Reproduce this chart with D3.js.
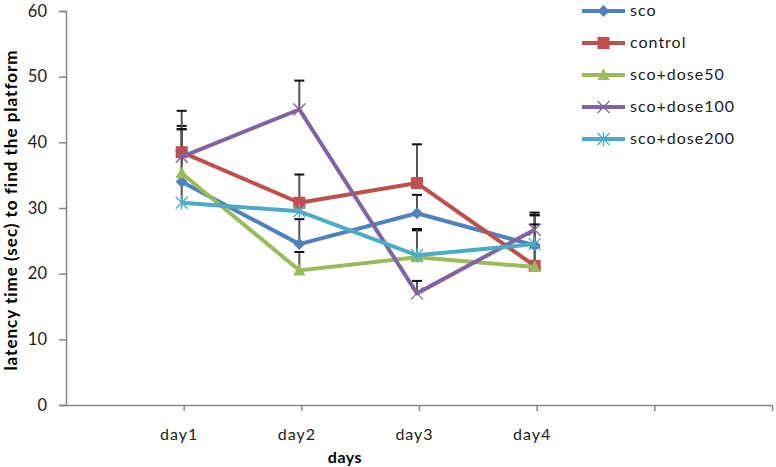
<!DOCTYPE html>
<html><head><meta charset="utf-8">
<script src="https://cdn.jsdelivr.net/npm/d3@7"></script>
<style>body{margin:0;background:#fff}svg{display:block}</style>
</head><body><svg id="c" width="776" height="467"></svg>
<script>
const tickLabels = ["", "day1", "day2", "day3", "day4", "", ""];
const days = ["day1", "day2", "day3", "day4"];
const seriesNames = ["sco", "control", "sco+dose50", "sco+dose100", "sco+dose200"];
const sco = [34.0, 24.5, 29.2, 24.3];
const control = [38.5, 30.8, 33.8, 21.2];
const dose50 = [35.3, 20.5, 22.5, 21.0];
const dose100 = [37.8, 45.0, 17.0, 26.7];
const dose200 = [30.8, 29.5, 22.8, 24.5];
const scoErr = [8.5, 3.8, 2.8, 5.0];
const controlErr = [6.3, 4.3, 5.9, 7.7];
const dose50Err = [6.7, 2.8, 4.1, 3.0];
const dose100Err = [4.2, 4.4, 1.9, 2.2];
const dose200Err = [4.0, 2.0, 4.0, 3.0];
const yTicks = [0, 10, 20, 30, 40, 50, 60];

const colors = ["#4F81BD", "#C0504D", "#9BBB59", "#8064A2", "#4BACC6"];
const markers = ["diamond", "square", "triangle", "x", "asterisk"];
const values = [sco, control, dose50, dose100, dose200];
const errs = [scoErr, controlErr, dose50Err, dose100Err, dose200Err];

const svg = d3.select("#c");
const font = "Lato, 'Open Sans', sans-serif";
const x = d3.scaleLinear().domain([0, 6]).range([66, 772]);
const y = d3.scaleLinear().domain([0, 60]).range([405, 11]);
const axisColor = "#868686";

// y axis
const ya = svg.append("g").attr("transform", "translate(66,0)")
  .call(d3.axisLeft(y).tickValues(yTicks).tickSize(7).tickPadding(12));
ya.select(".domain").attr("stroke", axisColor).attr("stroke-width", 1.5);
ya.selectAll(".tick line").attr("stroke", axisColor).attr("stroke-width", 1.5);
ya.selectAll(".tick text").attr("font-family", font).attr("font-size", 16.5).attr("fill", "#222");

// x axis
const xa = svg.append("g").attr("transform", "translate(0,405)")
  .call(d3.axisBottom(x).tickValues(d3.range(1, 7)).tickFormat(d => tickLabels[d]).tickSize(6).tickSizeOuter(0).tickPadding(18));
xa.select(".domain").attr("stroke", axisColor).attr("stroke-width", 1.5);
xa.selectAll(".tick line").attr("stroke", axisColor).attr("stroke-width", 1.5);
xa.selectAll(".tick text").attr("font-family", font).attr("font-size", 16).attr("letter-spacing", 1)
  .attr("fill", "#222").attr("dx", -5);

// titles
svg.append("text").attr("x", 345).attr("y", 463).attr("text-anchor", "middle")
  .attr("font-family", font).attr("font-weight", "bold").attr("font-size", 16).attr("letter-spacing", 0.5).text("days");
svg.append("text").attr("transform", "translate(17,210) rotate(-90)").attr("text-anchor", "middle")
  .attr("font-family", font).attr("font-weight", "bold").attr("font-size", 17).attr("letter-spacing", 1)
  .text("latency time (sec) to find the platform");

const px = i => x(i + 1) - 2;

// error bars
values.forEach((vals, s) => {
  const g = svg.append("g");
  vals.forEach((v, i) => {
    const top = v + errs[s][i];
    g.append("line").attr("x1", px(i)).attr("x2", px(i)).attr("y1", y(v)).attr("y2", y(top))
      .attr("stroke", "#555").attr("stroke-width", 2);
    g.append("line").attr("x1", px(i) - 5).attr("x2", px(i) + 5).attr("y1", y(top)).attr("y2", y(top))
      .attr("stroke", "#111").attr("stroke-width", 2);
  });
});

function drawMarker(g, type, cx, cy, color) {
  if (type === "diamond") {
    g.append("path").attr("d", `M${cx},${cy-6}L${cx+6},${cy}L${cx},${cy+6}L${cx-6},${cy}Z`).attr("fill", color);
  } else if (type === "square") {
    g.append("rect").attr("x", cx-6).attr("y", cy-6).attr("width", 12).attr("height", 12).attr("fill", color);
  } else if (type === "triangle") {
    g.append("path").attr("d", `M${cx},${cy-7}L${cx+6},${cy+5}L${cx-6},${cy+5}Z`).attr("fill", color);
  } else if (type === "x") {
    g.append("path").attr("d", `M${cx-6},${cy-6}L${cx+6},${cy+6}M${cx-6},${cy+6}L${cx+6},${cy-6}`)
      .attr("stroke", color).attr("stroke-width", 1.3).attr("fill", "none");
  } else if (type === "asterisk") {
    g.append("path").attr("d", `M${cx-6},${cy-6}L${cx+6},${cy+6}M${cx-6},${cy+6}L${cx+6},${cy-6}M${cx},${cy-7}L${cx},${cy+7}`)
      .attr("stroke", color).attr("stroke-width", 1.3).attr("fill", "none");
  }
}

const line = d3.line().x((d, i) => px(i)).y(d => y(d));
values.forEach((vals, s) => {
  const g = svg.append("g");
  g.append("path").datum(vals).attr("d", line).attr("fill", "none")
    .attr("stroke", colors[s]).attr("stroke-width", 4).attr("stroke-linejoin", "round");
  vals.forEach((v, i) => drawMarker(g, markers[s], px(i), y(v), colors[s]));
});

// legend
seriesNames.forEach((name, s) => {
  const ly = 11 + s * 32;
  const g = svg.append("g");
  g.append("line").attr("x1", 582).attr("x2", 625).attr("y1", ly).attr("y2", ly)
    .attr("stroke", colors[s]).attr("stroke-width", 4);
  drawMarker(g, markers[s], 603.5, ly, colors[s]);
  g.append("text").attr("x", 630).attr("y", ly + 5).attr("font-family", font).attr("font-size", 16)
    .attr("letter-spacing", 1).attr("fill", "#222").text(name);
});
</script></body></html>
